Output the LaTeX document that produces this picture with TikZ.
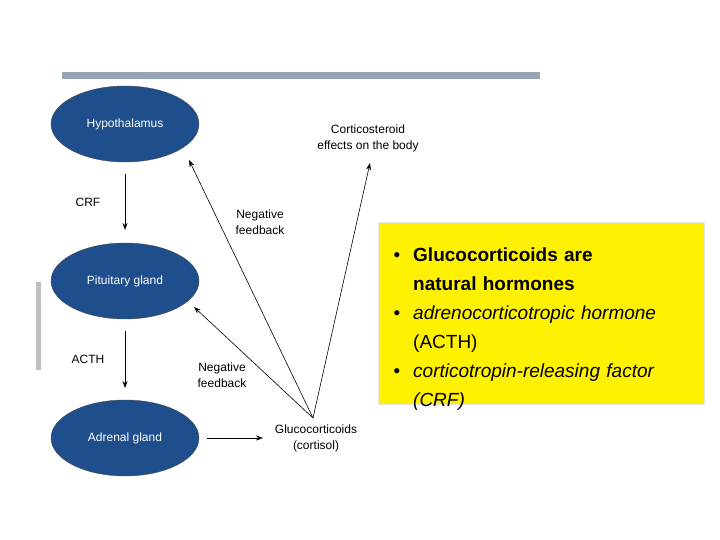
\documentclass[tikz,border=0pt]{standalone}
\usepackage{fontspec}
\setmainfont{Liberation Sans}
\usetikzlibrary{shapes.geometric,arrows.meta}
\definecolor{gland}{RGB}{31,78,140}
\definecolor{barcol}{RGB}{150,165,180}
\tikzset{
  organ/.style={draw=black!70, fill=gland, ellipse, minimum width=148pt, minimum height=76pt, text=white, font=\fontsize{12}{14}\selectfont},
  lbl/.style={align=center, font=\fontsize{12}{16}\selectfont},
  flow/.style={-{Stealth[length=7pt,width=5pt]}, semithick}
}
\begin{document}
\begin{tikzpicture}[x=1pt,y=-1pt]
  \useasboundingbox (0,0) rectangle (720,540);
  \fill[barcol] (62,72) rectangle (540,79);
  \fill[black!25] (36,282) rectangle (41,370);

  \node[organ] (hypo) at (125,124) {Hypothalamus};
  \node[organ] (pit) at (125,281) {Pituitary gland};
  \node[organ] (adr) at (125,438) {Adrenal gland};

  \node[lbl] (gluco) at (316,438) {Glucocorticoids\\(cortisol)};
  \node[lbl] (effects) at (368,138) {Corticosteroid\\effects on the body};
  \node[lbl] (neg1) at (260,222) {Negative\\feedback};
  \node[lbl] (neg2) at (222,375) {Negative\\feedback};
  \node[lbl] (crf) at (88,202) {CRF};
  \node[lbl] (acth) at (88,359) {ACTH};

  \coordinate (fan) at (313,418);
  \coordinate (hypotip) at (189,160);
  \coordinate (pittip) at (194,307);
  \coordinate (efftip) at (370,163);

  \draw[flow] (hypo.south) ++(0,12) -- (125,230);
  \draw[flow] (pit.south) ++(0,12) -- (125,388);
  \draw[flow] (adr.east) ++(8,0) -- (263,438);
  \draw[flow] (fan) -- (hypotip);
  \draw[flow] (fan) -- (pittip);
  \draw[flow] (fan) -- (efftip);

  \node[fill=yellow, draw=black!10, minimum width=326pt, minimum height=182pt, anchor=north west, inner sep=0pt] (box) at (378,222) {};
  \node[anchor=north west, align=left, text width=268pt, inner sep=0pt, font=\fontsize{19}{29}\selectfont] (facts) at (391,224) {%
    \setlength{\leftmargini}{22pt}\setlength{\labelsep}{13pt}%
    \begin{itemize}\setlength{\itemsep}{0pt}\setlength{\parskip}{0pt}\setlength{\topsep}{0pt}
      \item \textbf{Glucocorticoids are natural hormones}
      \item \textit{adrenocorticotropic hormone} (ACTH)
      \item \textit{corticotropin-releasing factor (CRF)}
    \end{itemize}};
\end{tikzpicture}
\end{document}
